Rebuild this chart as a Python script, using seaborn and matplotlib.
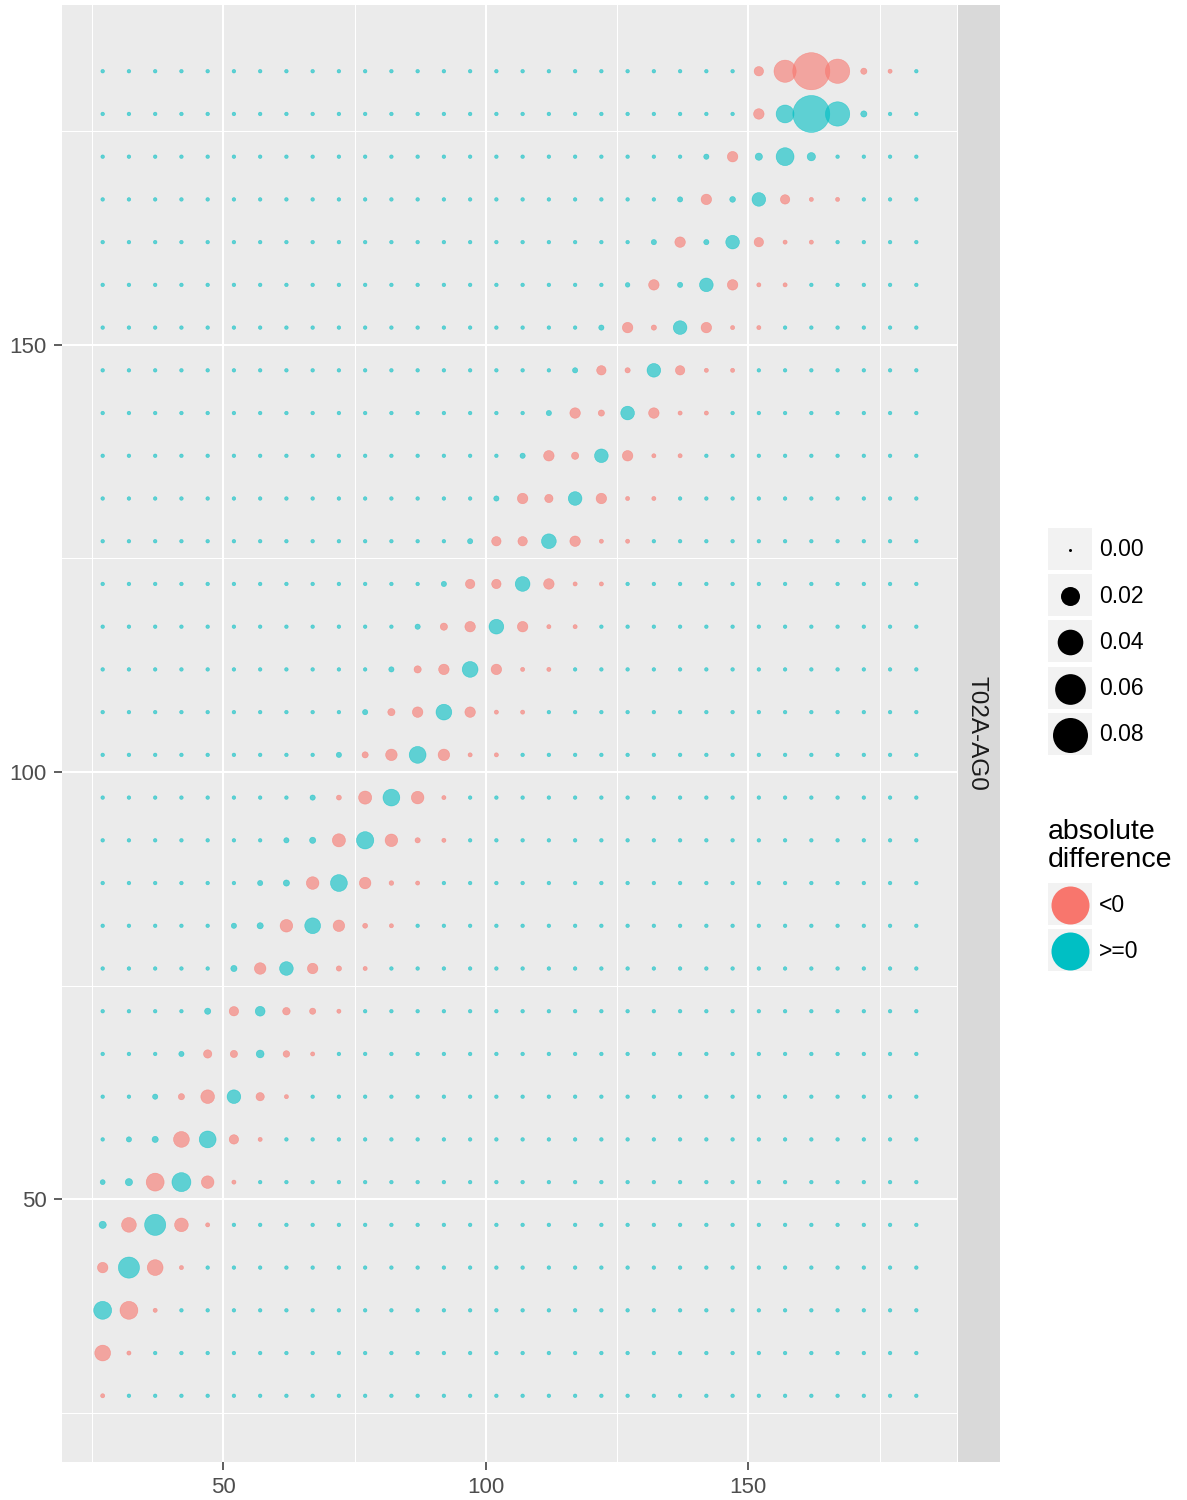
import numpy as np
import pandas as pd
import matplotlib
matplotlib.use("Agg")
import matplotlib.pyplot as plt
import seaborn as sns
from matplotlib.patches import Rectangle

# grid of positions (same on both axes)
x_levels = list(range(27, 183, 5))
y_levels = list(range(27, 183, 5))
background = 0.00003  # tiny value of the cells away from the diagonal

# per row: first x of the highlighted run and its signed differences
band_start = [27, 27, 27, 27, 27, 27, 32, 37, 42, 47, 52, 52, 57, 62, 67, 72,
              77, 82, 87, 92, 97, 102, 107, 112, 117, 122, 127, 132, 137, 142, 152, 152]
band_values = [
    [-0.0001],
    [-0.0128, -0.0001],
    [0.0174, -0.0174, -0.0001],
    [-0.0044, 0.0257, -0.0128, -0.0001],
    [0.0014, -0.0108, 0.0257, -0.0089, -0.0001],
    [0.0003, 0.0014, -0.0174, 0.020, -0.0072, -0.0001],
    [0.0004, 0.0008, -0.0128, 0.015, -0.0032, -0.0001],
    [0.0004, -0.0008, -0.0089, 0.0089, -0.0022, -0.0001],
    [0.0004, -0.0022, -0.0014, 0.0018, -0.0010, -0.0001],
    [0.0008, -0.0032, 0.0036, -0.0016, -0.0008, -0.0001],
    [0.0008, -0.0057, 0.0089, -0.0044, -0.0004, -0.0001],
    [0.0004, 0.0008, -0.0072, 0.0128, -0.0057, -0.0003, -0.0001],
    [0.0004, 0.0008, -0.0072, 0.015, -0.0057, -0.0002, -0.0001],
    [0.0004, 0.0008, -0.0080, 0.016, -0.0072, -0.0004, -0.0001],
    [0.0004, -0.0003, -0.0080, 0.015, -0.0072, -0.0001],
    [0.0004, -0.0008, -0.0057, 0.015, -0.0057, -0.0001, -0.0001],
    [0.0004, -0.0014, -0.0044, 0.0128, -0.0044, -0.0001, -0.0001],
    [0.0004, -0.0014, -0.0044, 0.0128, -0.0044, -0.0001, -0.0001],
    [0.0004, -0.0014, -0.0044, 0.0108, -0.0044, -0.0001, -0.0001],
    [0.0004, -0.0032, -0.0032, 0.0108, -0.0044, -0.0001, -0.0001],
    [0.0004, -0.0032, -0.0032, 0.0108, -0.0044, -0.0001, -0.0001],
    [0.0004, -0.0044, -0.0022, 0.0089, -0.0044, -0.0001, -0.0001],
    [0.0004, -0.0044, -0.0014, 0.0089, -0.0044, -0.0001, -0.0001],
    [0.0004, -0.0044, -0.0008, 0.0089, -0.0044, -0.0001, -0.0001],
    [0.0004, -0.0032, -0.0004, 0.0089, -0.0032, -0.0001, -0.0001],
    [0.0004, -0.0044, -0.0004, 0.0089, -0.0044, -0.0001, -0.0001],
    [0.0002, -0.0044, 0.0004, 0.0089, -0.0044, -0.0001, -0.0001],
    [0.0004, -0.0044, 0.0004, 0.0089, -0.0032, -0.0001, -0.0001],
    [0.0004, -0.0044, 0.0006, 0.0089, -0.0032, -0.0001, -0.0001],
    [0.0004, -0.0044, 0.0014, 0.0174, 0.0022],
    [-0.0044, 0.0174, 0.090, 0.0356, 0.0008],
    [-0.0032, -0.0288, -0.091, -0.0356, -0.0008, -0.0001],
]

size_breaks = [0.00, 0.02, 0.04, 0.06, 0.08]
facet_label = "T02A-AG0"
colors = {"<0": "#F8766D", ">=0": "#00BFC4"}

DPI = 100
W, H = 1187, 1500

rows = []
for y, start, vals in zip(y_levels, band_start, band_values):
    cell = {x: background for x in x_levels}
    for k, v in enumerate(vals):
        cell[start + 5 * k] = v
    for x in x_levels:
        rows.append((x, y, cell[x]))
df = pd.DataFrame(rows, columns=["x", "y", "diff"])
df["absdiff"] = df["diff"].abs()
df["sign"] = np.where(df["diff"] < 0, "<0", ">=0")


def point_area(v):
    # ggplot-like: diameter linear in sqrt(value)
    d_px = 3 + 32 * np.sqrt(abs(v) / 0.08)
    return (d_px * 72 / DPI) ** 2


size_map = {v: point_area(v) for v in df["absdiff"].unique()}

plt.rcParams["font.family"] = ["Liberation Sans", "DejaVu Sans"]

fig = plt.figure(figsize=(W / DPI, H / DPI), dpi=DPI)
pl, pr, pt, pb = 62, 957, 5, 1462
ax = fig.add_axes([pl / W, 1 - pb / H, (pr - pl) / W, (pb - pt) / H])
ax.set_facecolor("#EBEBEB")

sns.scatterplot(data=df, x="x", y="y", hue="sign", hue_order=["<0", ">=0"],
                palette=colors, size="absdiff", sizes=size_map, alpha=0.6,
                edgecolor="face", linewidth=0.4, legend=False, ax=ax, zorder=3)

pad_x = 0.05 * (max(x_levels) - min(x_levels))
pad_y = 0.05 * (max(y_levels) - min(y_levels))
ax.set_xlim(min(x_levels) - pad_x, max(x_levels) + pad_x)
ax.set_ylim(min(y_levels) - pad_y, max(y_levels) + pad_y)
ax.set_xticks([50, 100, 150])
ax.set_yticks([50, 100, 150])
ax.set_xticks([25, 75, 125, 175], minor=True)
ax.set_yticks([25, 75, 125, 175], minor=True)
ax.grid(which="major", color="white", linewidth=1.5, zorder=0)
ax.grid(which="minor", color="white", linewidth=0.75, zorder=0)
ax.set_axisbelow(True)
ax.tick_params(which="major", length=6, width=1.1, color="#333333",
               labelcolor="#4D4D4D", labelsize=16, pad=5)
ax.tick_params(which="minor", length=0)
ax.set_xlabel("")
ax.set_ylabel("")
for s in ax.spines.values():
    s.set_visible(False)

# facet strip
sax = fig.add_axes([958 / W, 1 - pb / H, (1000 - 958) / W, (pb - pt) / H])
sax.set_facecolor("#D9D9D9")
sax.set_xticks([])
sax.set_yticks([])
for s in sax.spines.values():
    s.set_visible(False)
sax.text(0.45, 0.5, facet_label, rotation=270, ha="center", va="center",
         fontsize=17.5, color="#1A1A1A", transform=sax.transAxes)

# legends drawn in pixel space
lax = fig.add_axes([0, 0, 1, 1], zorder=5)
lax.set_xlim(0, W)
lax.set_ylim(H, 0)
lax.axis("off")

key_x, key_w, key_h = 1048, 44, 44
for i, v in enumerate(size_breaks):
    cy = 550 + 46.2 * i
    lax.add_patch(Rectangle((key_x, cy - key_h / 2), key_w, key_h - 2,
                            facecolor="#F2F2F2", edgecolor="none"))
    lax.scatter([key_x + key_w / 2], [cy], s=point_area(v), color="black",
                linewidths=0)
    lax.text(1099, cy, f"{v:.2f}", fontsize=16.5, color="black",
             ha="left", va="center")

lax.text(1048, 846, "absolute\ndifference", fontsize=20.5, color="black",
         ha="left", va="center", linespacing=1.1)
for i, lab in enumerate(["<0", ">=0"]):
    cy = 905 + 46 * i
    lax.add_patch(Rectangle((key_x, cy - key_h / 2), key_w, key_h - 2,
                            facecolor="#F2F2F2", edgecolor="none"))
    lax.scatter([key_x + key_w / 2], [cy], s=(38 * 72 / DPI) ** 2,
                color=colors[lab], linewidths=0)
    lax.text(1099, cy, lab, fontsize=16.5, color="black", ha="left", va="center")

fig.savefig("out.png", dpi=DPI)
